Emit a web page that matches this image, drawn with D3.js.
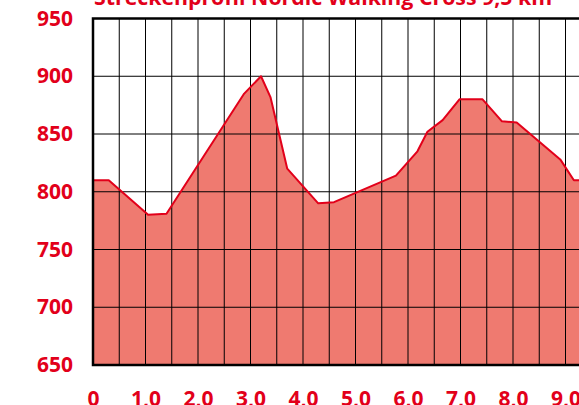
<!DOCTYPE html>
<html>
<head>
<meta charset="utf-8">
<script src="https://cdn.jsdelivr.net/npm/d3@7"></script>
<style>
  html, body { margin: 0; padding: 0; background: #fff; overflow: hidden; }
  svg { display: block; }
</style>
</head>
<body>
<svg id="chart" width="579" height="405"></svg>
<script>
var title = "Streckenprofil Nordic Walking Cross 9,5 km";
// distance in km, elevation in m
var distance = [0, 0.30, 1.05, 1.40, 2.88, 3.20, 3.38, 3.70, 4.29, 4.59, 5.77, 6.18, 6.37, 6.66, 6.98, 7.42, 7.79, 8.07, 8.90, 9.16, 9.5];
var elevation = [810, 810, 780, 781, 885, 900, 882, 820, 790, 791, 814, 835, 852, 862, 880, 880, 861, 860, 828, 810, 810];
var xTickValues = [0, 1, 2, 3, 4, 5, 6, 7, 8, 9];
var xTickLabels = ["0", "1,0", "2,0", "3,0", "4,0", "5,0", "6,0", "7,0", "8,0", "9,0"];
var yTickValues = [650, 700, 750, 800, 850, 900, 950];

var red = "#e2001a";
var svg = d3.select("#chart");

var x = d3.scaleLinear().domain([0, 9.5]).range([93, 591.75]);
var y = d3.scaleLinear().domain([650, 950]).range([365, 18.5]);

var points = distance.map(function(d, i) {
  return { km: d, m: elevation[i] };
});

// filled profile
svg
  .append("path")
  .datum(points)
  .attr("fill", "#ef7a70")
  .attr(
    "d",
    d3
      .area()
      .x(function(d) { return x(d.km); })
      .y0(y(650))
      .y1(function(d) { return y(d.m); })
  );

// grid, every 0.5 km and every 50 m
var grid = svg.append("g").attr("stroke", "#000").attr("stroke-width", 1);
grid
  .selectAll("line.v")
  .data(d3.range(0.5, 9.5, 0.5))
  .enter()
  .append("line")
  .attr("class", "v")
  .attr("x1", function(d) { return x(d); })
  .attr("x2", function(d) { return x(d); })
  .attr("y1", y(950))
  .attr("y2", y(650));
grid
  .selectAll("line.h")
  .data(yTickValues.slice(1, -1))
  .enter()
  .append("line")
  .attr("class", "h")
  .attr("x1", x(0))
  .attr("x2", x(9.5))
  .attr("y1", function(d) { return y(d); })
  .attr("y2", function(d) { return y(d); });

// profile line
svg
  .append("path")
  .datum(points)
  .attr("fill", "none")
  .attr("stroke", red)
  .attr("stroke-width", 2)
  .attr("stroke-linejoin", "round")
  .attr(
    "d",
    d3
      .line()
      .x(function(d) { return x(d.km); })
      .y(function(d) { return y(d.m); })
  );

// frame
svg
  .append("rect")
  .attr("x", x(0))
  .attr("y", y(950))
  .attr("width", x(9.5) - x(0))
  .attr("height", y(650) - y(950))
  .attr("fill", "none")
  .attr("stroke", "#000")
  .attr("stroke-width", 2.5);

var font = "'Open Sans', 'Noto Sans', sans-serif";

// y axis labels
var yAxis = svg
  .append("g")
  .attr("transform", "translate(" + (x(0) - 20) + ",0)")
  .call(d3.axisLeft(y).tickValues(yTickValues).tickSize(0).tickPadding(0));
yAxis.select(".domain").remove();
yAxis
  .selectAll("text")
  .attr("fill", red)
  .attr("font-family", font)
  .attr("font-weight", "bold")
  .attr("font-size", 21);

// x axis labels (cut off by the bottom edge, as in the source)
var xAxis = svg
  .append("g")
  .attr("transform", "translate(0," + (y(650) + 26) + ")")
  .call(
    d3
      .axisBottom(x)
      .tickValues(xTickValues)
      .tickFormat(function(d, i) { return xTickLabels[i]; })
      .tickSize(0)
      .tickPadding(0)
  );
xAxis.select(".domain").remove();
xAxis
  .selectAll("text")
  .attr("fill", red)
  .attr("font-family", font)
  .attr("font-weight", "bold")
  .attr("font-size", 21);

// title, mostly above the visible area
svg
  .append("text")
  .attr("x", 94)
  .attr("y", 4.5)
  .attr("fill", red)
  .attr("font-family", font)
  .attr("font-weight", "bold")
  .attr("font-size", 21.3)
  .text(title);
</script>
</body>
</html>
